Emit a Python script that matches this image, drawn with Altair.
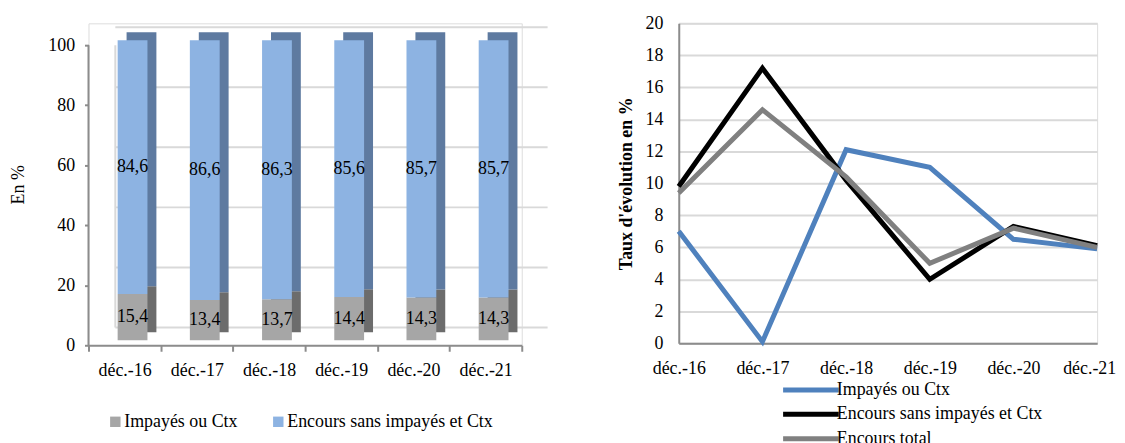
import altair as alt
import pandas as pd

cats = ["déc.-16", "déc.-17", "déc.-18", "déc.-19", "déc.-20", "déc.-21"]
impayes_share = [15.4, 13.4, 13.7, 14.4, 14.3, 14.3]
encours_share = [84.6, 86.6, 86.3, 85.6, 85.7, 85.7]

growth_impayes = [7.0, 0.1, 12.1, 11.0, 6.5, 5.9]
growth_encours = [9.8, 17.2, 10.2, 4.0, 7.3, 6.1]
growth_total = [9.4, 14.6, 10.4, 5.0, 7.2, 6.0]

s_imp = "Impayés ou Ctx"
s_enc = "Encours sans impayés et Ctx"
s_tot = "Encours total"

FONT = "Times New Roman, Liberation Serif, serif"
FS = 18
AXC = "#8C8C8C"
GRIDC = "#D9D9D9"

# ---------- left: stacked share bars ----------
rows = []
for i, c in enumerate(cats):
    a, b = impayes_share[i], encours_share[i]
    rows.append({"cat": c, "series": s_imp, "value": a, "ord": 0, "mid": a / 2,
                 "label": f"{a:.1f}".replace(".", ",")})
    rows.append({"cat": c, "series": s_enc, "value": b, "ord": 1, "mid": a + b / 2,
                 "label": f"{b:.1f}".replace(".", ",")})
bar_df = pd.DataFrame(rows)
grid_df = pd.DataFrame({"v": [0, 20, 40, 60, 80, 100]})
axis_df = pd.DataFrame({"lo": [0], "hi": [100]})

W_L, H_L = 436, 324
yscale = alt.Scale(domain=[0, 107.3], nice=False)
xscale = alt.Scale(domain=cats, paddingInner=0, paddingOuter=0)

yaxis_left = alt.Axis(values=[0, 20, 40, 60, 80, 100], title="En %", grid=False, domain=False,
                      tickSize=4, tickColor=AXC, tickWidth=2,
                      labelFontSize=FS, labelFont=FONT, labelPadding=10, labelColor="black",
                      titleFontSize=FS, titleFont=FONT, titleFontWeight="normal",
                      titlePadding=20, titleColor="black")
xaxis_left = alt.Axis(title=None, labelAngle=0, tickBand="extent", tickSize=6, tickWidth=2,
                      tickColor=AXC, domainColor=AXC, domainWidth=2,
                      labelFontSize=FS, labelFont=FONT, labelPadding=10, labelColor="black")

back_grid = alt.Chart(grid_df).mark_rule(color=GRIDC, strokeWidth=2, yOffset=-18).encode(
    x=alt.value(27), x2=alt.value(W_L + 26),
    y=alt.Y("v:Q", scale=yscale, axis=yaxis_left),
)

back_corner = alt.Chart(axis_df).mark_rule(color=GRIDC, strokeWidth=2, yOffset=-18).encode(
    x=alt.value(27),
    y=alt.Y("lo:Q", scale=yscale, axis=yaxis_left),
    y2="hi:Q",
)

y_line = alt.Chart(axis_df).mark_rule(color=AXC, strokeWidth=2).encode(
    x=alt.value(0),
    y=alt.Y("lo:Q", scale=yscale, axis=yaxis_left),
    y2="hi:Q",
)

bars_back = alt.Chart(bar_df).mark_bar(size=30, xOffset=17, yOffset=-13).encode(
    x=alt.X("cat:N", scale=xscale, sort=cats, axis=xaxis_left),
    y=alt.Y("value:Q", stack="zero", scale=yscale, axis=yaxis_left),
    order=alt.Order("ord:Q"),
    color=alt.Color("series:N", scale=alt.Scale(domain=[s_imp, s_enc], range=["#6C6C6C", "#5E7AA0"]), legend=None),
)

bars_front = alt.Chart(bar_df).mark_bar(size=30, xOffset=8, yOffset=-5).encode(
    x=alt.X("cat:N", scale=xscale, sort=cats, axis=xaxis_left),
    y=alt.Y("value:Q", stack="zero", scale=yscale, axis=yaxis_left),
    order=alt.Order("ord:Q"),
    color=alt.Color("series:N", scale=alt.Scale(domain=[s_imp, s_enc], range=["#A6A6A6", "#8DB3E2"]),
                    legend=alt.Legend(title=None, orient="none", legendX=18, legendY=392,
                                      direction="horizontal", symbolType="square", symbolSize=110,
                                      symbolStrokeWidth=0, labelFontSize=FS, labelFont=FONT,
                                      labelColor="black", columnPadding=32, labelOffset=0,
                                      labelLimit=400)),
)

bar_text = alt.Chart(bar_df).mark_text(font=FONT, fontSize=FS, color="black", xOffset=8, yOffset=-5).encode(
    x=alt.X("cat:N", scale=xscale, sort=cats, axis=xaxis_left),
    y=alt.Y("mid:Q", scale=yscale, axis=yaxis_left),
    text="label:N",
)

left = alt.layer(back_grid, back_corner, y_line, bars_back, bars_front, bar_text).resolve_scale(
    color="independent"
).properties(width=W_L, height=H_L)

# ---------- right: growth lines ----------
lrows = []
for name, vals in [(s_imp, growth_impayes), (s_enc, growth_encours), (s_tot, growth_total)]:
    for c, v in zip(cats, vals):
        lrows.append({"cat": c, "series": name, "value": v})
line_df = pd.DataFrame(lrows)

right = alt.Chart(line_df).mark_line(strokeWidth=5).encode(
    x=alt.X("cat:N", sort=cats, scale=alt.Scale(type="point", padding=0),
            axis=alt.Axis(title=None, labelAngle=0, ticks=False, grid=False,
                          domainColor=AXC, domainWidth=2, labelFontSize=FS,
                          labelFont=FONT, labelPadding=16, labelColor="black",
                          labelOffset={"condition": {"test": "datum.label == 'déc.-21'", "value": -8},
                                       "value": 0})),
    y=alt.Y("value:Q", scale=alt.Scale(domain=[0, 20], nice=False),
            axis=alt.Axis(values=list(range(0, 21, 2)), title="Taux d'évolution en %",
                          grid=True, gridColor=GRIDC, gridWidth=2, ticks=False,
                          domainColor=AXC, domainWidth=2, labelFontSize=FS,
                          labelFont=FONT, labelPadding=16, labelColor="black",
                          titleFont=FONT, titleFontSize=FS, titleFontWeight="bold",
                          titlePadding=10, titleColor="black")),
    color=alt.Color("series:N", sort=[s_imp, s_enc, s_tot],
                    scale=alt.Scale(domain=[s_imp, s_enc, s_tot], range=["#4F81BD", "#000000", "#808080"]),
                    legend=alt.Legend(title=None, orient="none", legendX=124, legendY=360,
                                      direction="vertical", symbolType="M-5.6,0L5.6,0", symbolSize=100,
                                      symbolStrokeWidth=5, labelFontSize=FS, labelFont=FONT,
                                      labelColor="black", rowPadding=4.5, labelOffset=17,
                                      labelLimit=400)),
).properties(width=421, height=322)

chart = alt.hconcat(left, right, spacing=67).properties(
    padding={"left": 1, "top": 4, "right": 0, "bottom": 5}
).resolve_scale(color="independent").configure_view(stroke=None).configure(font=FONT)

chart.save("out.html", embed_options={"renderer": "svg", "actions": False})
